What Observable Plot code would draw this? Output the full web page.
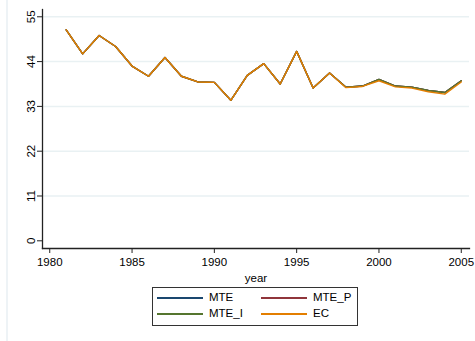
<!DOCTYPE html>
<html><head><meta charset="utf-8">
<script src="https://cdn.jsdelivr.net/npm/d3@7"></script>
<script src="https://cdn.jsdelivr.net/npm/@observablehq/plot@0.6"></script>
<style>
body{margin:0;background:#fff;font-family:"Liberation Sans",Arial,sans-serif;}
#wrap{position:relative;width:475px;height:341px;overflow:hidden;background:#fff}
#edge{position:absolute;left:6px;top:0;width:2px;height:341px;background:#eef3f6}
#chart{position:absolute;left:0;top:0}
#legend{position:absolute;left:152px;top:287px;width:206px;height:39px;border:1px solid #333;box-sizing:border-box;font-size:11.5px;color:#000}
.sw{position:absolute;height:1.5px}
.lb{position:absolute;line-height:14px}
</style></head>
<body><div id="wrap"><div id="edge"></div><div id="chart"></div><div id="legend"></div></div>
<script>
const years = [1981,1982,1983,1984,1985,1986,1987,1988,1989,1990,1991,1992,1993,1994,1995,1996,1997,1998,1999,2000,2001,2002,2003,2004,2005];
const MTE   = [51.8,45.9,50.4,47.7,42.9,40.4,45.0,40.4,39.0,38.9,34.5,40.6,43.5,38.5,46.5,37.5,41.2,37.7,38.0,39.6,38.0,37.7,36.9,36.4,39.3];
const MTE_P = [51.8,45.9,50.4,47.7,42.9,40.4,45.0,40.4,39.0,38.9,34.5,40.6,43.5,38.5,46.5,37.5,41.2,37.7,38.0,39.6,38.0,37.7,36.9,36.4,39.3];
const MTE_I = [51.8,45.9,50.4,47.7,42.9,40.4,45.0,40.4,39.0,38.9,34.5,40.6,43.5,38.5,46.5,37.5,41.2,37.7,38.0,39.6,38.0,37.7,36.9,36.4,39.3];
const EC    = [51.8,45.9,50.4,47.7,42.9,40.4,45.0,40.4,39.0,38.9,34.5,40.6,43.5,38.5,46.5,37.5,41.2,37.6,37.9,39.3,37.8,37.5,36.6,36.0,39.0];
const seriesNames = ["MTE","MTE_P","MTE_I","EC"];
const seriesColors = ["#1a476f","#90353b","#55752f","#e37e00"];
const yTicks = [0,11,22,33,44,55];
const xTicks = [1980,1985,1990,1995,2000,2005];
const xDomain = [1979.56,2005.5];
const yDomain = [-1.89,56.79];

const allValues = [MTE,MTE_P,MTE_I,EC];
const data = [];
seriesNames.forEach((s,i)=>years.forEach((y,j)=>data.push({series:s,year:y,value:allValues[i][j]})));

const font = '"Liberation Sans",Arial,sans-serif';
const chart = Plot.plot({
  width:475, height:285,
  marginLeft:42, marginRight:6, marginTop:9, marginBottom:37,
  style:{fontFamily:font, fontSize:"11.5px", color:"#000", background:"transparent"},
  x:{domain:xDomain},
  y:{domain:yDomain},
  color:{domain:seriesNames, range:seriesColors},
  marks:[
    Plot.gridY(yTicks.filter(d=>d>0),{stroke:"#e9f1f3",strokeOpacity:1,strokeWidth:1.5}),
    Plot.axisY(yTicks,{tickSize:5,tickPadding:3,tickRotate:-90,label:null,stroke:"#222",fontSize:11.5}),
    Plot.axisX(xTicks,{tickSize:5,tickPadding:4,tickFormat:d=>String(d),label:"year",labelAnchor:"center",labelArrow:"none",labelOffset:33,stroke:"#222",fontSize:11.5}),
    Plot.frame({anchor:"left",stroke:"#222",strokeWidth:1.3}),
    Plot.frame({anchor:"bottom",stroke:"#222",strokeWidth:1.3}),
    Plot.line(data,{x:"year",y:"value",z:"series",stroke:"series",strokeWidth:1.4})
  ]
});
document.getElementById("chart").appendChild(chart);

const leg = document.getElementById("legend");
const pos = [[4,9],[108,9],[4,25],[108,25]];
seriesNames.forEach((s,i)=>{
  const [x,y] = pos[i];
  const sw = document.createElement("div");
  sw.className="sw"; sw.style.left=x+"px"; sw.style.top=y+"px"; sw.style.width="46px";
  sw.style.background = seriesColors[i];
  leg.appendChild(sw);
  const lb = document.createElement("div");
  lb.className="lb"; lb.style.left=(x+52)+"px"; lb.style.top=(y-7)+"px"; lb.textContent=s;
  leg.appendChild(lb);
});
</script>
</body></html>
